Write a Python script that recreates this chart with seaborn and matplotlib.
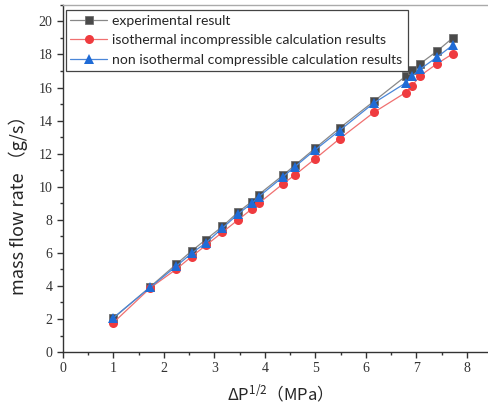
import matplotlib
matplotlib.use("Agg")
import matplotlib.pyplot as plt
import seaborn as sns
from matplotlib.ticker import MultipleLocator

# sqrt of pressure drop (MPa^1/2)
dp_sqrt = [1.0, 1.73, 2.24, 2.55, 2.83, 3.16, 3.47, 3.74, 3.88, 4.36, 4.59,
           5.0, 5.48, 6.16, 6.79, 6.92, 7.07, 7.41, 7.72]
experimental = [2.05, 3.95, 5.3, 6.12, 6.8, 7.6, 8.47, 9.1, 9.53, 10.7, 11.29,
                12.34, 13.55, 15.17, 16.69, 17.05, 17.43, 18.2, 19.0]
iso_incomp = [1.78, 3.88, 5.0, 5.78, 6.45, 7.25, 8.0, 8.65, 9.0, 10.18, 10.7,
              11.7, 12.9, 14.5, 15.7, 16.12, 16.7, 17.44, 18.04]
noniso_comp = [2.08, 3.92, 5.18, 5.98, 6.6, 7.5, 8.35, 9.0, 9.4, 10.6, 11.2,
               12.24, 13.4, 15.07, 16.28, 16.69, 17.1, 17.84, 18.56]

sns.set_style("ticks")
plt.rcParams["mathtext.fontset"] = "custom"
plt.rcParams["mathtext.rm"] = "Noto Sans CJK SC"
plt.rcParams["mathtext.it"] = "Noto Sans CJK SC"

fig = plt.figure(figsize=(4.88, 4.07), dpi=100)
ax = fig.add_axes([0.129, 0.135, 0.871, 0.853])

sns.lineplot(x=dp_sqrt, y=experimental, ax=ax, color="#888888", lw=0.9,
             marker="s", markersize=5.8, markerfacecolor="#4a4a4a",
             markeredgecolor="#707070", markeredgewidth=0.6,
             label="experimental result")
sns.lineplot(x=dp_sqrt, y=iso_incomp, ax=ax, color="#f07070", lw=0.9,
             marker="o", markersize=6.5, markerfacecolor="#ef3b3f",
             markeredgecolor="#ef3b3f", markeredgewidth=0,
             label="isothermal incompressible calculation results")
sns.lineplot(x=dp_sqrt, y=noniso_comp, ax=ax, color="#4a86d8", lw=0.9,
             marker="^", markersize=7, markerfacecolor="#1f6bd6",
             markeredgecolor="#1f6bd6", markeredgewidth=0,
             label="non isothermal compressible calculation results")

ax.set_xlim(0, 8.42)
ax.set_ylim(0, 21)
ax.xaxis.set_major_locator(MultipleLocator(1))
ax.xaxis.set_minor_locator(MultipleLocator(0.5))
ax.yaxis.set_major_locator(MultipleLocator(2))
ax.yaxis.set_minor_locator(MultipleLocator(1))
ax.tick_params(which="major", direction="out", length=4, width=1, color="#333333",
               labelsize=10, labelcolor="#333333")
ax.tick_params(which="minor", direction="out", length=2.5, width=1, color="#333333")
for lab in ax.get_xticklabels() + ax.get_yticklabels():
    lab.set_family("Liberation Serif")

ax.spines["right"].set_visible(False)
ax.spines["left"].set_color("#333333")
ax.spines["bottom"].set_color("#333333")
ax.spines["top"].set_color("#aaaaaa")
for s in ax.spines.values():
    s.set_linewidth(1)

ax.set_xlabel(r"ΔP$^{1/2}$（MPa）", fontsize=12, family="Noto Sans CJK SC")
ax.set_ylabel("mass flow rate （g/s）", fontsize=13, family="Noto Sans CJK SC")
ax.xaxis.set_label_coords(0.5, -0.088)
ax.yaxis.set_label_coords(-0.082, 0.435)

leg = ax.legend(loc="upper left", bbox_to_anchor=(0.006, 0.986), borderaxespad=0,
                frameon=True, fancybox=False, framealpha=1, edgecolor="#444444",
                handlelength=2.6, handletextpad=0.4, borderpad=0.35,
                labelspacing=0.55, prop={"family": "Lato", "size": 10.1})
leg.get_frame().set_linewidth(0.9)

fig.savefig("out.png", dpi=100)
